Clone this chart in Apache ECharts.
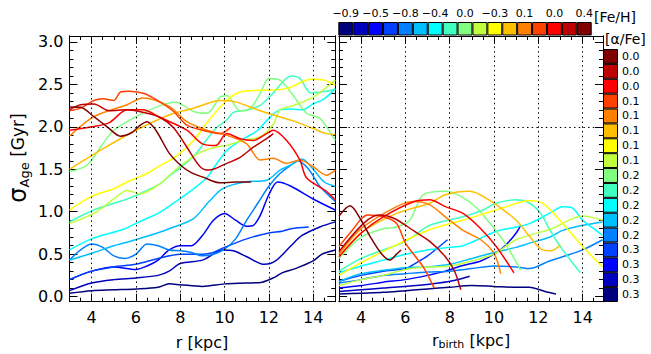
<!DOCTYPE html>
<html><head><meta charset="utf-8">
<script src="https://cdn.jsdelivr.net/npm/echarts@6/dist/echarts.min.js"></script>
<style>html,body{margin:0;padding:0;background:#fff}#c{width:651px;height:354px}</style>
</head><body><div id="c"></div>
<script>
// ---- colour scale (17 bins) ----
const COLORS = ['#00007F','#0000BF','#0000FF','#0040FF','#0080FF','#00BFFF','#00FFFF','#40FFBF','#80FF80','#BFFF40','#FFFF00','#FFBF00','#FF8000','#FF4000','#FF0000','#BF0000','#7F0000'];
const FEH_LABELS = ['−0.9','','−0.5','','−0.8','','−0.4','','0.0','','−0.3','','0.1','','0.0','','0.4'];
const ALPHA_LABELS = ['0.3','0.3','0.3','0.3','0.2','0.2','0.2','0.2','0.2','0.1','0.1','0.1','0.1','0.1','0.0','0.0','0.0'];

// ---- ticks ----
const X_MAJOR = [4,6,8,10,12,14];
const X_MINOR = [3,3.5,4,4.5,5,5.5,6,6.5,7,7.5,8,8.5,9,9.5,10,10.5,11,11.5,12,12.5,13,13.5,14,14.5,15];
const Y_MAJOR = [0,0.5,1,1.5,2,2.5,3];
const Y_MINOR = [0,0.1,0.2,0.3,0.4,0.5,0.6,0.7,0.8,0.9,1,1.1,1.2,1.3,1.4,1.5,1.6,1.7,1.8,1.9,2,2.1,2.2,2.3,2.4,2.5,2.6,2.7,2.8,2.9,3];
const Y_REF = 2.0;

// ---- left panel: sigma_Age vs r ----
const L0 = [[3,0.04],[4,0.07],[5,0.08],[6,0.09],[7,0.11],[7.5,0.15],[8,0.14],[9,0.12],[10,0.15],[11,0.16],[11.7,0.17],[12.2,0.22],[12.6,0.28],[13.2,0.33],[14,0.42],[14.4,0.5],[15,0.55]];
const L1 = [[3,0.07],[4,0.16],[5,0.2],[6,0.22],[7,0.25],[7.5,0.3],[8,0.39],[9,0.43],[9.5,0.5],[9.9,0.55],[10.4,0.54],[11,0.47],[11.8,0.38],[12.3,0.42],[13,0.6],[13.5,0.72],[14.3,0.82],[15,0.88]];
const L2 = [[3,0.2],[4,0.3],[5,0.35],[6,0.32],[6.5,0.36],[7,0.43],[7.5,0.55],[8,0.6],[8.5,0.6],[9,0.72],[9.5,0.9],[10,0.98],[10.5,0.9],[11,0.83],[11.3,0.84],[11.6,0.95],[12,1.2],[12.4,1.35],[13,1.3],[14,1.15],[15,1.02]];
const L3 = [[3,0.2],[4,0.3],[5,0.35],[6,0.38],[7,0.45],[8,0.5],[9,0.5],[9.5,0.52],[10,0.58],[11,0.68],[12,0.75],[12.6,0.77],[13,0.8],[13.8,0.82]];
const L4 = [[3,0.43],[3.5,0.55],[4,0.62],[4.5,0.58],[5,0.48],[5.5,0.45],[6,0.5],[6.5,0.62],[7,0.6],[7.5,0.55],[8,0.54],[8.5,0.52],[9,0.48],[9.5,0.5],[10,0.56],[10.5,0.68],[11,0.9],[11.5,1.1],[12,1.3],[12.5,1.45],[13,1.55],[13.3,1.6],[13.8,1.5],[14.3,1.3],[15,1.12]];
const L5 = [[3,0.43],[4,0.51],[5,0.6],[5.6,0.64],[6.5,0.71],[7.5,0.8],[8.6,0.92],[9.3,1.12],[9.9,1.27],[10.9,1.35],[11.9,1.37],[12.5,1.49],[13,1.55],[13.5,1.62],[14,1.5],[14.5,1.35],[15,1.3]];
const L6 = [[3,0.55],[4,0.68],[5.5,0.8],[6.3,0.9],[7,0.98],[7.8,1.12],[8.6,1.27],[9.2,1.4],[9.6,1.55],[10.1,1.72],[10.5,1.8],[11,1.88],[11.5,1.96],[12,2.1],[12.5,2.2],[13,2.21],[13.5,2.2],[14,2.27],[14.5,2.33],[15,2.45]];
const L7 = [[3,0.88],[4.1,1.02],[5.6,1.15],[6.5,1.25],[7.1,1.33],[7.5,1.42],[8,1.52],[8.6,1.65],[9.2,1.85],[9.6,1.98],[10.1,2.08],[10.4,2.17],[11,2.2],[11.6,2.25],[12.2,2.4],[13,2.6],[13.4,2.57],[13.9,2.4],[14.6,2.42],[15,2.44]];
const L8 = [[3,1.47],[3.8,1.55],[4.4,1.76],[5,1.96],[6,2.12],[7.1,2.25],[7.8,2.29],[8.6,2.18],[9.2,2.16],[9.8,2.35],[10.1,2.37],[10.7,2.19],[11.1,2.2],[11.6,2.39],[12,2.57],[12.5,2.55],[13.1,2.37],[13.7,2.16],[14.3,2.1],[15,1.84]];
const L9 = [[3,0.86],[4.1,0.98],[5,1.15],[5.6,1.25],[6.2,1.21],[6.6,1.25],[7.1,1.33],[7.6,1.45],[8.1,1.56],[8.9,1.7],[9.6,1.76],[10.1,1.78],[10.8,1.84],[11.6,1.88],[12.2,2.03],[12.5,2.2],[13.1,2.25],[14,2.35],[15,2.55]];
const L10 = [[3,1.02],[4,1.18],[5,1.27],[5.6,1.35],[6.5,1.45],[7,1.53],[7.8,1.65],[8.6,1.84],[9.3,2.08],[10.1,2.31],[10.7,2.41],[11.6,2.43],[12.8,2.45],[13.9,2.56],[14.5,2.55],[15,2.49]];
const L11 = [[3,1.5],[4.5,1.74],[6,1.96],[7.5,2.14],[8.6,2.22],[9.8,2.31],[10.4,2.3],[11.6,2.19],[13.1,2.07],[14,1.98],[14.6,1.92],[15,1.91]];
const L12 = [[3,1.89],[4.1,2.12],[5.6,2.26],[6.3,2.34],[7.5,2.24],[8.3,2.06],[9.2,1.96],[10.1,1.9],[11,1.8],[11.6,1.61],[12.2,1.63],[12.8,1.57],[13.4,1.61],[14,1.53],[14.6,1.43],[15,1.49]];
const L13 = [[3,2.19],[3.5,2.22],[4.1,2.31],[4.5,2.33],[5,2.31],[5.3,2.41],[5.7,2.42],[6.4,2.39],[7.1,2.29],[7.7,2.18],[8.3,2.02],[9,1.96],[9.5,1.93],[9.8,1.92],[10.3,2.0]];
const L14 = [[3,1.96],[4,2.0],[4.8,2.05],[5.6,2.2],[6.3,2.2],[7.1,2.11],[8.3,1.96],[9,1.8],[9.6,1.78],[10.1,1.92],[10.7,1.86],[11.3,1.84],[11.9,1.92],[12.2,1.96],[12.8,1.84],[13.4,1.61],[13.7,1.4],[14.6,1.24],[15,1.14]];
const L15 = [[3,2.2],[3.5,2.26],[4.1,2.27],[4.8,2.19],[5.6,2.2],[6.5,2.16],[7.1,2.11],[7.7,1.99],[8.3,1.76],[8.9,1.53],[9.3,1.49],[10.1,1.57],[10.7,1.64],[11.3,1.76],[11.9,1.86],[12.2,1.92]];
const L16 = [[3,2.235],[3.5,2.23],[4.1,2.12],[4.7,2.0],[5.3,1.89],[5.8,1.93],[6.2,2.02],[6.5,2.06],[6.9,1.96],[7.5,1.69],[8,1.55],[8.5,1.46],[9,1.41],[9.8,1.34],[10.5,1.35],[11.2,1.35]];
const LEFT = [L0,L1,L2,L3,L4,L5,L6,L7,L8,L9,L10,L11,L12,L13,L14,L15,L16];

// ---- right panel: sigma_Age vs r_birth ----
const R0 = [[3,0.03],[4,0.04],[5,0.05],[6,0.07],[7,0.09],[8,0.11],[9,0.13],[10,0.12],[10.9,0.11],[11.6,0.11],[12.3,0.06],[12.8,0.03]];
const R1 = [[3,0.06],[4,0.08],[5,0.1],[6.5,0.13],[7.5,0.16],[8.2,0.19],[8.9,0.24]];
const R2 = [[3,0.1],[4,0.13],[5,0.17],[6,0.2],[7,0.25],[7.8,0.3],[8.5,0.36],[9.4,0.42],[10,0.5],[10.5,0.6],[11,0.75],[11.2,0.84]];
const R3 = [[3,0.18],[4,0.25],[5,0.3],[6,0.33],[6.5,0.4],[7,0.48],[7.9,0.67]];
const R4 = [[3,0.16],[4,0.2],[5,0.25],[6,0.27],[7,0.29],[8,0.3],[9,0.33],[10,0.36],[11,0.35],[11.6,0.33],[12.5,0.42],[13.1,0.47],[14,0.55],[14.9,0.67]];
const R5 = [[3,0.18],[4,0.27],[5,0.31],[6,0.34],[7,0.35],[8,0.38],[9,0.45],[10,0.52],[11,0.58],[11.6,0.63],[12.5,0.7],[13.1,0.78],[14,0.84],[14.9,0.88]];
const R6 = [[3,0.28],[4,0.36],[5,0.43],[6,0.5],[7,0.55],[8,0.58],[8.6,0.6],[9.5,0.7],[10.1,0.77],[11,0.82],[11.6,0.86],[12.5,0.98],[13.1,1.06],[13.5,1.05],[14,0.9],[14.5,0.8],[14.9,0.72]];
const R7 = [[3,0.3],[4,0.45],[5,0.55],[6,0.65],[7.1,0.84],[8.6,0.94],[9.5,1.02],[10.1,1.1],[11,1.14],[11.6,1.1],[12.1,0.98],[12.6,0.75],[13.1,0.55],[13.9,0.28]];
const R8 = [[3,0.45],[4,0.7],[5,0.8],[5.6,0.82],[6.2,0.9],[6.8,1.2],[7.8,1.24],[8.5,1.18],[9.2,1.05],[9.7,0.9],[10.5,0.63],[11.2,0.31]];
const R9 = [[3,0.13],[4,0.2],[5,0.25],[6,0.32],[7.1,0.35],[8,0.36],[9.4,0.45],[10,0.5],[11,0.67],[12.6,0.8],[14,0.95],[14.9,0.9]];
const R10 = [[3,0.25],[4,0.4],[5.6,0.61],[7.1,0.79],[8.6,0.9],[10.1,1.02],[11.6,1.13],[12.2,1.1],[13.1,0.86],[14,0.59],[14.9,0.35]];
const R11 = [[3,0.47],[4,0.75],[5.6,0.98],[7.1,1.1],[7.8,1.2],[8.9,1.24],[9.7,1.15],[11,0.9],[11.6,0.71],[12.2,0.55],[12.6,0.54],[13,0.61]];
const R12 = [[3,0.5],[4,0.8],[5.6,1.06],[6.4,1.12],[7.1,1.08],[7.8,0.94],[8.6,0.78],[9.4,0.67],[10,0.51],[10.3,0.27]];
const R13 = [[3,0.59],[3.5,0.75],[4.3,0.96],[5,0.94],[5.6,0.86],[6,0.63],[6.8,0.35],[7.3,0.1]];
const R14 = [[3,0.47],[4,0.75],[5,0.94],[6.4,1.12],[7.1,1.14],[7.8,1.06],[8.6,0.98],[9.4,0.8],[10.1,0.59],[10.9,0.28]];
const R15 = [[3,0.53],[4.1,0.86],[4.8,0.96],[5.5,0.92],[6.4,0.77],[7.1,0.65],[7.8,0.47],[8.2,0.31],[8.5,0.08]];
const R16 = [[3,0.95],[3.5,1.07],[4,0.9],[4.4,0.71],[4.9,0.51],[5.3,0.43],[5.6,0.5],[5.8,0.55]];
const RIGHT = [R0,R1,R2,R3,R4,R5,R6,R7,R8,R9,R10,R11,R12,R13,R14,R15,R16];

// ---- layout ----
const FONT = 'DejaVu Sans';
const Y_MIN = -0.06, Y_MAX = 3.07;
const PANELS = [
  {left: 69.5, width: 265.8, xMax: 15, yLabels: true},
  {left: 339, width: 264, xMax: 14.92, yLabels: false}
];
const TOP = 36, HEIGHT = 265.7;

const grids = [], xAxes = [], yAxes = [], series = [];
function xAx(g, pos, ticks, len, labels, xMax) {
  xAxes.push({gridIndex: g, type: 'value', position: pos, min: 3, max: xMax,
    axisLine: {show: true, onZero: false, lineStyle: {color: '#000', width: 1}},
    axisTick: {show: true, inside: true, length: len, customValues: ticks, lineStyle: {color: '#000', width: 1}},
    axisLabel: labels ? {show: true, customValues: X_MAJOR, margin: 8, color: '#000', fontFamily: FONT, fontSize: 16} : {show: false},
    splitLine: {show: false}});
  return xAxes.length - 1;
}
function yAx(g, pos, ticks, len, labels) {
  yAxes.push({gridIndex: g, type: 'value', position: pos, min: Y_MIN, max: Y_MAX,
    axisLine: {show: true, onZero: false, lineStyle: {color: '#000', width: 1}},
    axisTick: {show: true, inside: true, length: len, customValues: ticks, lineStyle: {color: '#000', width: 1}},
    axisLabel: labels ? {show: true, customValues: Y_MAJOR, margin: 6, color: '#000', fontFamily: FONT, fontSize: 16, formatter: v => v.toFixed(1)} : {show: false},
    splitLine: {show: false}});
  return yAxes.length - 1;
}
const DOT = {color: '#000', width: 1, type: [1.5, 3.2]};
PANELS.forEach((p, g) => {
  grids.push({left: p.left, top: TOP, width: p.width, height: HEIGHT});
  const xi = xAx(g, 'bottom', X_MAJOR, 8, true, p.xMax);
  xAx(g, 'bottom', X_MINOR, 4, false, p.xMax);
  xAx(g, 'top', X_MAJOR, 8, false, p.xMax);
  xAx(g, 'top', X_MINOR, 4, false, p.xMax);
  const yi = yAx(g, 'left', Y_MAJOR, 8, p.yLabels);
  yAx(g, 'left', Y_MINOR, 4, false);
  yAx(g, 'right', Y_MAJOR, 8, false);
  yAx(g, 'right', Y_MINOR, 4, false);
  const data = g === 0 ? LEFT : RIGHT;
  series.push({type: 'line', xAxisIndex: xi, yAxisIndex: yi, data: [], silent: true,
    markLine: {silent: true, symbol: ['none', 'none'], label: {show: false}, lineStyle: DOT, animation: false,
      data: X_MAJOR.map(v => ({xAxis: v})).concat([{yAxis: Y_REF}])}});
  data.forEach((d, i) => {
    series.push({type: 'line', xAxisIndex: xi, yAxisIndex: yi, data: d, showSymbol: false, smooth: 0.3,
      clip: true, silent: true, lineStyle: {color: COLORS[i], width: 1.5}});
  });
});

// colour bars
const IDX = COLORS.map((c, i) => String(i));
grids.push({left: 338.3, top: 22, width: 253.4, height: 13.5});
grids.push({left: 603, top: 49, width: 15, height: 253});
const cbX = xAxes.length;
xAxes.push({gridIndex: 2, type: 'category', data: IDX, position: 'top',
  axisLine: {show: false}, axisTick: {show: false},
  axisLabel: {show: true, interval: 0, margin: 3, color: '#000', fontFamily: FONT, fontSize: 11, formatter: (v, i) => FEH_LABELS[i]}});
const cbY = yAxes.length;
yAxes.push({gridIndex: 2, type: 'value', min: 0, max: 1, show: false});
const cb2X = xAxes.length;
xAxes.push({gridIndex: 3, type: 'value', min: 0, max: 1, show: false});
const cb2Y = yAxes.length;
yAxes.push({gridIndex: 3, type: 'category', data: IDX, position: 'right',
  axisLine: {show: false}, axisTick: {show: false},
  axisLabel: {show: true, interval: 0, margin: 4, color: '#000', fontFamily: FONT, fontSize: 11, formatter: (v, i) => ALPHA_LABELS[i]}});
const barData = COLORS.map(c => ({value: 1, itemStyle: {color: c}}));
series.push({type: 'bar', xAxisIndex: cbX, yAxisIndex: cbY, data: barData, barCategoryGap: '0%', silent: true,
  itemStyle: {borderColor: '#000', borderWidth: 1}});
series.push({type: 'bar', xAxisIndex: cb2X, yAxisIndex: cb2Y, data: barData, barCategoryGap: '0%', silent: true,
  itemStyle: {borderColor: '#000', borderWidth: 1}});

const chart = echarts.init(document.getElementById('c'), null, {renderer: 'svg'});
chart.setOption({
  animation: false,
  backgroundColor: '#fff',
  grid: grids, xAxis: xAxes, yAxis: yAxes, series: series,
  graphic: [
    {type: 'text', left: 594, top: 10, style: {text: '[Fe/H]', fontFamily: FONT, fontSize: 14, fill: '#000'}},
    {type: 'text', left: 605, top: 32, style: {text: '[α/Fe]', fontFamily: FONT, fontSize: 14, fill: '#000'}},
    {type: 'text', x: 202, y: 342, style: {text: 'r [kpc]', fontFamily: FONT, fontSize: 16, fill: '#000', align: 'center', verticalAlign: 'middle'}},
    {type: 'text', x: 471, y: 340, style: {
      text: '{m|r}{s|birth}{m| [kpc]}', align: 'center', verticalAlign: 'middle', fill: '#000',
      rich: {m: {fontFamily: FONT, fontSize: 16, lineHeight: 20, fill: '#000'},
             s: {fontFamily: FONT, fontSize: 11, lineHeight: 11, verticalAlign: 'bottom', fill: '#000'}}}},
    {type: 'text', x: 18, y: 158, rotation: Math.PI / 2, style: {
      text: '{g|σ}{s|Age}{m| [Gyr]}', align: 'center', verticalAlign: 'middle', fill: '#000',
      rich: {g: {fontFamily: FONT, fontSize: 24, lineHeight: 26, fill: '#000'},
             s: {fontFamily: FONT, fontSize: 13, lineHeight: 13, verticalAlign: 'bottom', fill: '#000'},
             m: {fontFamily: FONT, fontSize: 17, lineHeight: 26, fill: '#000'}}}}
  ]
});
</script></body></html>
